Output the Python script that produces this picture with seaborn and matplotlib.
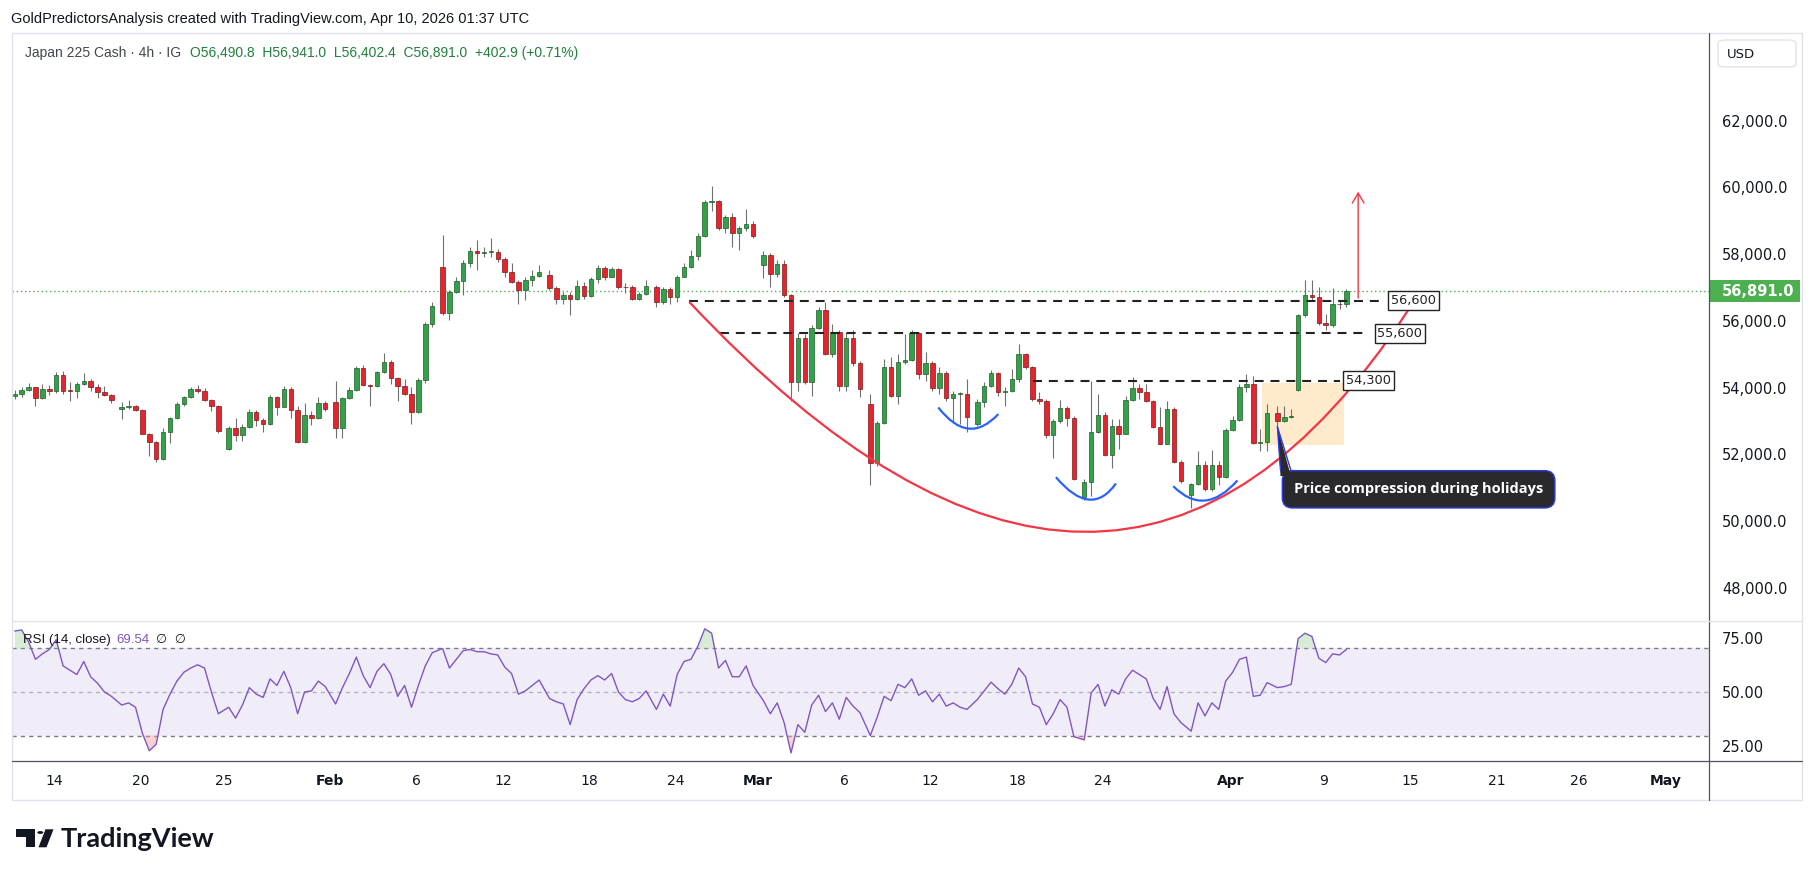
"""
Japan 225 Cash, 4h chart (TradingView style) with cup drawing and RSI pane.
"""

import numpy as np
import pandas as pd
import matplotlib

matplotlib.use("Agg")
import matplotlib.pyplot as plt
import seaborn as sns
from matplotlib.path import Path
from matplotlib.patches import PathPatch, Rectangle, Polygon, Circle, FancyBboxPatch
from matplotlib.lines import Line2D
from matplotlib.transforms import blended_transform_factory

# ---------------------------------------------------------------------------
# Data: one candle per 8h (3 per session, 1 on Apr 6 / Apr 10)
# ---------------------------------------------------------------------------
opens = [
    53757, 53807, 53937, 54008, 53686, 53957, 53907, 54379, 53907, 53887, 54108, 54208,
    54008, 53857, 53777, 53355, 53425, 53455, 53325, 52622, 52371, 51849, 52672, 53084,
    53506, 53726, 53957, 53887, 53626, 53445, 52150, 52803, 52572, 52813, 53274, 53024,
    52903, 53726, 53425, 53957, 53325, 52361, 53174, 53084, 53536, 53575, 52803, 53686,
    53927, 54590, 54078, 54058, 54459, 54780, 54289, 54048, 53807, 53274, 54228, 55895,
    57601, 56246, 56849, 57200, 57722, 58093, 58043, 58064, 58073, 57843, 57471, 57170,
    56919, 57220, 57340, 57371, 56969, 56668, 56788, 56668, 57039, 56738, 57240, 57571,
    57320, 57541, 57019, 56999, 56668, 56798, 57019, 56568, 56939, 56718, 57320, 57601,
    57933, 58545, 59549, 59579, 58776, 59108, 58626, 58776, 58907, 57671, 57963, 57391,
    57702, 56768, 54177, 55493, 54158, 55794, 56336, 55011, 55664, 54057, 55493, 54740,
    53505, 51748, 52932, 54609, 53756, 54780, 54830, 55633, 54408, 54730, 53987, 54448,
    53685, 53806, 53806, 52902, 53555, 54057, 54438, 53876, 53907, 54248, 54991, 54609,
    53655, 53605, 52581, 53003, 53384, 53083, 50724, 51175, 52681, 53164, 51979, 52852,
    52621, 53625, 53977, 53856, 53585, 52822, 52320, 53354, 51778, 50794, 51116, 51678,
    50975, 51678, 51316, 52722, 53023, 54007, 54107, 52350, 52380, 53224,
    53003, 53124, 53926, 56165, 56768, 56718, 55935, 55864, 56517, 56491,
]
highs = [
    53937, 54028, 54128, 54028, 54108, 54078, 54459, 54489, 54158, 54158, 54429, 54258,
    54108, 54038, 53800, 53556, 53626, 53485, 53355, 52652, 52401, 52783, 53124, 53556,
    53757, 54008, 54078, 53987, 53656, 53465, 52853, 53084, 52903, 53355, 53325, 53084,
    53787, 53757, 54058, 54008, 53455, 53546, 53305, 53706, 53586, 54208, 53726, 54008,
    54660, 54690, 54108, 54489, 55032, 54831, 54329, 54258, 54028, 54300, 55950, 56550,
    58575, 56919, 57320, 57822, 58224, 58425, 58224, 58475, 58144, 57903, 57722, 57220,
    57320, 57521, 57672, 57521, 57039, 56869, 56869, 57220, 57170, 57320, 57672, 57642,
    57601, 57571, 57120, 57070, 56869, 57220, 57070, 57019, 57019, 57371, 57722, 58124,
    58626, 59630, 60031, 59630, 59178, 59228, 58826, 59348, 58977, 58093, 58043, 57822,
    57822, 56818, 55633, 55613, 55864, 56416, 56567, 55914, 55714, 55664, 55714, 54810,
    53806, 53003, 54860, 54910, 55011, 55613, 55714, 55664, 55061, 54810, 54609, 54509,
    53906, 53856, 54258, 53655, 54158, 54529, 54459, 54007, 54559, 55292, 55031, 54659,
    53856, 53655, 53053, 53625, 53455, 53153, 51246, 54208, 53806, 53254, 53053, 53053,
    53756, 54308, 54107, 54107, 53625, 53404, 53605, 53405, 51818, 51146, 52099, 51798,
    52119, 51798, 52802, 53154, 54107, 54409, 54358, 52752, 53505, 53455,
    53455, 53355, 56200, 57220, 57220, 57019, 56216, 56969, 56617, 56941,
]
lows = [
    53656, 53706, 53907, 53435, 53656, 53787, 53827, 53807, 53586, 53686, 54080, 53907,
    53686, 53757, 53526, 53054, 53355, 53285, 52602, 51950, 51779, 51819, 52351, 53054,
    53455, 53686, 53827, 53606, 53305, 52652, 52120, 52401, 52401, 52783, 52853, 52682,
    52883, 53184, 53405, 53084, 52331, 52341, 52883, 53054, 53285, 52502, 52502, 53656,
    53907, 54058, 53455, 54028, 54429, 54108, 53606, 53787, 52923, 53250, 54150, 55800,
    56166, 56035, 56819, 56768, 57622, 57521, 57923, 57903, 57772, 57320, 57120, 56517,
    56618, 57039, 57320, 56919, 56517, 56497, 56166, 56618, 56668, 56718, 57120, 57220,
    57300, 56939, 56839, 56618, 56618, 56768, 56417, 56517, 56517, 56568, 57300, 57571,
    57823, 58525, 59278, 58726, 58626, 58224, 58124, 58700, 58475, 57270, 57019, 57320,
    56718, 53605, 53906, 54107, 53756, 55764, 54961, 54910, 53906, 53906, 54660, 53706,
    51075, 51647, 52902, 53706, 53505, 54710, 54810, 54258, 54208, 53906, 53806, 53605,
    52953, 52902, 52681, 52852, 53404, 54007, 53756, 53455, 53856, 54158, 54559, 53605,
    53505, 52501, 51898, 52953, 52852, 51216, 50643, 50744, 52651, 51949, 51597, 52149,
    52601, 53605, 53655, 53555, 52802, 52300, 52300, 51748, 51146, 50393, 51095, 50895,
    50895, 51095, 51296, 52702, 53003, 53856, 52320, 52099, 52099, 52852,
    52980, 53083, 53900, 56115, 56617, 55864, 55714, 55814, 56366, 56402,
]
closes = [
    53807, 53937, 54008, 53686, 53957, 53907, 54379, 53907, 53887, 54108, 54208, 54008,
    53857, 53777, 53626, 53425, 53455, 53325, 52622, 52371, 51849, 52672, 53084, 53506,
    53726, 53957, 53887, 53626, 53445, 52702, 52803, 52572, 52813, 53274, 53024, 52903,
    53726, 53425, 53957, 53325, 52361, 53174, 53084, 53536, 53355, 52803, 53686, 53927,
    54590, 54078, 54058, 54459, 54780, 54289, 54048, 53807, 53274, 54228, 55895, 56457,
    56246, 56849, 57200, 57722, 58093, 58043, 58064, 58073, 57843, 57471, 57170, 56919,
    57220, 57340, 57471, 56969, 56668, 56788, 56668, 57039, 56738, 57240, 57571, 57320,
    57541, 57019, 56999, 56668, 56798, 57039, 56568, 56939, 56718, 57320, 57601, 57933,
    58545, 59549, 59579, 58776, 59108, 58626, 58776, 58907, 58545, 57963, 57391, 57702,
    56768, 54177, 55493, 54158, 55794, 56336, 55011, 55664, 54057, 55493, 54740, 53947,
    51748, 52932, 54609, 53756, 54780, 54830, 55633, 54408, 54730, 53987, 54448, 53685,
    53806, 53806, 53123, 53555, 54057, 54438, 53876, 53907, 54248, 54991, 54609, 53655,
    53605, 52581, 53003, 53384, 53083, 51246, 51175, 52681, 53164, 51979, 52852, 52621,
    53625, 53977, 53856, 53585, 52822, 52320, 53354, 51778, 51196, 51116, 51678, 50975,
    51678, 51316, 52722, 53023, 54007, 54107, 52350, 52380, 53224, 53003,
    53124, 53134, 56165, 56768, 56718, 55935, 55864, 56517, 56491, 56891,
]
rsi_values = [
    78, 78.5, 73, 65, 67.5, 69.5, 74, 62, 60, 58, 64, 57,
    54, 50, 48, 44, 45, 43, 31, 23, 26, 42, 49, 55,
    59, 61, 62.5, 61, 50, 40, 43, 38, 44, 52, 49, 47.5,
    56, 53, 59.5, 52, 40, 50, 50.5, 55, 52.5, 44.5, 52, 58.5,
    66, 57.5, 52, 59.5, 63, 58, 48, 53, 43, 53, 62, 68,
    70, 61, 65, 69, 69.5, 68.5, 68.5, 67.5, 67, 61.5, 58.5, 49,
    50.5, 53, 55.5, 47, 45.5, 44.5, 35, 46.5, 51.5, 55.5, 57.5, 55.5,
    58.5, 50, 46.5, 45.5, 47, 50.5, 42, 49, 43.5, 58, 64, 65,
    71, 79, 77, 61, 64.5, 57, 57, 62, 53, 46, 40, 45,
    36, 22, 35, 31.5, 44, 48.5, 41, 45, 37.5, 47.5, 43.5, 40.5,
    30, 38.5, 48, 46, 53.5, 52, 56, 48.5, 50.5, 45.5, 49, 43.5,
    45, 43, 42, 46.5, 50.5, 54.5, 51.5, 49, 53.5, 61, 57, 44.5,
    43, 35, 40, 46.5, 43, 29.5, 28, 49.5, 53.5, 43.5, 51, 49,
    56, 60, 58, 56, 47, 42, 52.5, 40, 36, 32, 45, 39,
    45, 42, 55, 59, 65, 66, 48, 48.5, 54.3, 52,
    52.5, 53.5, 74.5, 77, 75.5, 65.5, 63.5, 67.5, 67, 69.54,
]

first_day, last_day, axis_end = "2026-01-12", "2026-04-10", "2026-05-01"
session_bars = {"2026-04-03": 0, "2026-04-06": 2}   # 4h bars on holiday sessions
short_days = {"2026-04-06": 1, "2026-04-10": 1}     # candles drawn on those days

tick_dates = ["2026-01-14", "2026-01-20", "2026-01-25", "2026-02-01", "2026-02-06",
              "2026-02-12", "2026-02-18", "2026-02-24", "2026-03-01", "2026-03-06",
              "2026-03-12", "2026-03-18", "2026-03-24", "2026-04-01", "2026-04-09",
              "2026-04-15", "2026-04-21", "2026-04-26", "2026-05-01"]
tick_labels = ["14", "20", "25", "Feb", "6", "12", "18", "24", "Mar", "6",
               "12", "18", "24", "Apr", "9", "15", "21", "26", "May"]
month_labels = ["Feb", "Mar", "Apr", "May"]

price_ticks = [48000, 50000, 52000, 54000, 56000, 58000, 60000, 62000]
rsi_ticks = [25, 50, 75]
last_price = 56891.0
rsi_last = 69.54

# drawn horizontal levels and their label texts
levels = [56600, 55620, 54210]
level_texts = ["56,600", "55,600", "54,300"]

# ---------------------------------------------------------------------------
# Calendar -> bar index (6 bars per weekday, 1 on Sunday evening)
# ---------------------------------------------------------------------------
bar_start = {}
pos = 0
for d in pd.date_range(first_day, axis_end, freq="D"):
    key = d.strftime("%Y-%m-%d")
    bar_start[key] = pos
    if key in session_bars:
        n = session_bars[key]
    elif d.weekday() == 5:
        n = 0
    elif d.weekday() == 6:
        n = 1
    else:
        n = 6
    pos += n

xc = []
for d in pd.bdate_range(first_day, last_day):
    key = d.strftime("%Y-%m-%d")
    if session_bars.get(key, 6) == 0:
        continue
    for k in range(short_days.get(key, 3)):
        xc.append(bar_start[key] + 2 * k + 0.5)
xc = np.array(xc)
o, h, l, c = (np.array(v, dtype=float) for v in (opens, highs, lows, closes))
rsi = np.array(rsi_values, dtype=float)
assert len(xc) == len(o) == len(h) == len(l) == len(c) == len(rsi)

# ---------------------------------------------------------------------------
# Figure layout (pixel based, 1814 x 877)
# ---------------------------------------------------------------------------
W, H = 1814, 877
sns.set_theme(style="white")
plt.rcParams["font.family"] = ["DejaVu Sans"]
plt.rcParams["axes.facecolor"] = "white"

TXT = "#131722"
GREEN, GREEN_EDGE = "#34a047", "#1d5e2b"
RED, RED_EDGE = "#e5242e", "#7d1a1a"
WICK = "#707070"
PURPLE = "#7e57c2"


def fx(x):
    return x / W


def fy(y):
    return 1 - y / H


fig = plt.figure(figsize=(W / 100, H / 100), dpi=100)
fig.patch.set_facecolor("white")
ax = fig.add_axes([fx(12), fy(621), (1709 - 12) / W, (621 - 35) / H])
ax_r = fig.add_axes([fx(12), fy(761), (1709 - 12) / W, (761 - 621) / H], sharex=ax)

for a in (ax, ax_r):
    for s in a.spines.values():
        s.set_visible(False)
    a.grid(False)

ax.set_xlim(-0.3, 491.6)
ax.set_ylim(47006, 64563)
ax_r.set_ylim(18.3, 82.6)

# ---- candles ----
up = c >= o
body_lo = np.minimum(o, c)
body_h = np.maximum(np.abs(c - o), 25)
ax.vlines(xc, l, h, color=WICK, lw=0.8, zorder=2)
ax.bar(xc[up], body_h[up], bottom=body_lo[up], width=1.3, color=GREEN,
       edgecolor=GREEN_EDGE, linewidth=0.5, zorder=3)
ax.bar(xc[~up], body_h[~up], bottom=body_lo[~up], width=1.3, color=RED,
       edgecolor=RED_EDGE, linewidth=0.5, zorder=3)

# last price dotted line + price scale label
ax.axhline(last_price, color="#4caf50", lw=1, ls=(0, (1, 2)), zorder=1)
blend = blended_transform_factory(fig.transFigure, ax.transData)
ax.add_artist(Rectangle((fx(1710), last_price - 330), fx(1800) - fx(1710), 660,
                        transform=blend, facecolor="#4caf50", edgecolor="none",
                        clip_on=False, zorder=5))
ax.text(fx(1722), last_price, f"{last_price:,.1f}", transform=blend, ha="left",
        va="center", color="white", fontsize=10.5, fontweight="bold", zorder=6,
        clip_on=False)

# ---- holiday box ----
ax.add_patch(Rectangle((361.9, 52289), 385.8 - 361.9, 54127 - 52289,
                       facecolor="#ffeacc", edgecolor="none", zorder=1))

# ---- dashed levels ----
level_span = [(196, 396.7), (205, 392.8), (295.7, 384.6)]
label_bar = [406, 402, 393]
for val, txt, (x0, x1), xb in zip(levels, level_texts, level_span, label_bar):
    ax.hlines(val, x0, x1, colors="#222222", lw=1.5, linestyles=(0, (4.3, 3.3)), zorder=4)
    ax.text(xb, val, txt, ha="center", va="center", fontsize=9.3, color="#222222",
            zorder=7, bbox=dict(boxstyle="square,pad=0.22", fc="white", ec="#222222", lw=1))

# ---- cup arc (quadratic curve) ----
cup = Path([(196, 56567), (320, 42900), (404.5, 56337)],
           [Path.MOVETO, Path.CURVE3, Path.CURVE3])
ax.add_patch(PathPatch(cup, fill=False, edgecolor="#f23645", lw=1.6, zorder=5))

# ---- small blue arcs ----
blue_arcs = [
    [(268.2, 53404), (276.9, 52237), (285.6, 53205)],
    [(302.3, 51316), (312.4, 50067), (319.7, 51126)],
    [(336.3, 51045), (345.4, 50099), (354.9, 51217)],
]
for pts in blue_arcs:
    ax.add_patch(PathPatch(Path(pts, [Path.MOVETO, Path.CURVE3, Path.CURVE3]),
                           fill=False, edgecolor="#2962ff", lw=1.6, zorder=5))

# ---- target arrow ----
ax.annotate("", xy=(389.9, 59952), xytext=(389.9, 56600),
            arrowprops=dict(arrowstyle="->,head_width=0.35,head_length=0.6",
                            color="#f23645", lw=1), zorder=6)

# ---- callout ----
DARK, EDGE_BLUE = "#2a2a2e", "#2d3ae0"
ax.text(371.3, 50952, "Price compression during holidays", ha="left", va="center",
        color="white", fontsize=10.5, fontweight="bold", family=["Open Sans", "DejaVu Sans"],
        zorder=8, bbox=dict(boxstyle="round,pad=0.8,rounding_size=0.7",
                            fc=DARK, ec=EDGE_BLUE, lw=1))
ax.add_patch(Polygon([(366.5, 52827), (367.4, 51350), (370.4, 51350)],
                     closed=True, facecolor=DARK, edgecolor="none", zorder=9))
ax.plot([366.5, 367.4], [52827, 51520], color=EDGE_BLUE, lw=1, zorder=9)
ax.plot([366.5, 370.4], [52827, 51520], color=EDGE_BLUE, lw=1, zorder=9)

# ---- price scale ----
ax.set_yticks(price_ticks)
ax.set_yticklabels([f"{v:,.1f}" for v in price_ticks])
ax.tick_params(axis="y", left=False, right=False, labelleft=False, labelright=True,
               length=0, pad=9.4, labelsize=10.5, labelcolor=TXT)
ax.tick_params(axis="x", bottom=False, labelbottom=False)

# ---- RSI pane ----
ax_r.axhspan(30, 70, color=PURPLE, alpha=0.1, lw=0, zorder=0)
for lev, alpha in ((70, 1.0), (50, 0.5), (30, 1.0)):
    ax_r.axhline(lev, color="#787b86", lw=1, ls=(0, (3, 3)), alpha=alpha, zorder=1)
ax_r.fill_between(xc, 70, rsi, where=rsi > 70, interpolate=True, color="#a5d6a7",
                  alpha=0.45, lw=0, zorder=1)
ax_r.fill_between(xc, 30, rsi, where=rsi < 30, interpolate=True, color="#ef9a9a",
                  alpha=0.45, lw=0, zorder=1)
sns.lineplot(x=xc, y=rsi, ax=ax_r, color=PURPLE, lw=1, legend=False, zorder=3)
ax_r.set_xlabel("")
ax_r.set_ylabel("")
ax_r.set_yticks(rsi_ticks)
ax_r.set_yticklabels([f"{v:.2f}" for v in rsi_ticks])
ax_r.tick_params(axis="y", left=False, right=False, labelleft=False, labelright=True,
                 length=0, pad=9.4, labelsize=10.5, labelcolor=TXT)

ax_r.set_xticks([bar_start[d] for d in tick_dates])
ax_r.set_xticklabels(tick_labels)
ax_r.tick_params(axis="x", bottom=False, length=0, pad=9.5, labelsize=10, labelcolor=TXT)
for t in ax_r.get_xticklabels():
    if t.get_text() in month_labels:
        t.set_fontweight("bold")

t_rsi = ax_r.text(0.0065, 0.865, "RSI (14, close)", transform=ax_r.transAxes,
                  ha="left", va="center", fontsize=9.5, color=TXT,
                  family=["Liberation Sans", "DejaVu Sans"])
t_val = ax_r.annotate(f"{rsi_last:.2f}", xy=(1, 0.5), xycoords=t_rsi, xytext=(4, 0),
                      textcoords="offset points", va="center", fontsize=9.5, color=PURPLE,
                      family=["Liberation Sans", "DejaVu Sans"])
ax_r.annotate("\u2205  \u2205", xy=(1, 0.5), xycoords=t_val, xytext=(5, 0),
              textcoords="offset points", va="center", fontsize=9, color=TXT,
              family=["DejaVu Sans"])

# ---- header texts ----
fig.text(fx(11), fy(19), "GoldPredictorsAnalysis created with TradingView.com, Apr 10, 2026 01:37 UTC",
         ha="left", va="center", fontsize=10.5, color=TXT, family=["Liberation Sans", "DejaVu Sans"])
t_name = ax.text(0.0074, 0.969, "Japan 225 Cash \u00b7 4h \u00b7 IG", transform=ax.transAxes,
                 ha="left", va="center", fontsize=10, color="#434651",
                 family=["Liberation Sans", "DejaVu Sans"])
ax.annotate("O56,490.8  H56,941.0  L56,402.4  C56,891.0  +402.9 (+0.71%)", xy=(1, 0.5),
            xycoords=t_name, xytext=(7, 0), textcoords="offset points", va="center",
            fontsize=10, color="#22803c", family=["Liberation Sans", "DejaVu Sans"])

# USD box on the price scale
fig.add_artist(FancyBboxPatch((fx(1718), fy(67)), fx(1796) - fx(1718), fy(40) - fy(67),
                              boxstyle="round,pad=0,rounding_size=0.004",
                              transform=fig.transFigure, facecolor="white",
                              edgecolor="#e0e3eb", lw=1))
fig.text(fx(1727), fy(54), "USD", ha="left", va="center", fontsize=9.5, color=TXT)

# ---- frame and separators ----
fig.add_artist(Rectangle((fx(12), fy(800)), fx(1802) - fx(12), fy(33) - fy(800),
                         transform=fig.transFigure, fill=False, edgecolor="#e0e3eb", lw=1))
fig.add_artist(Line2D([fx(1709), fx(1709)], [fy(33), fy(800)], transform=fig.transFigure,
                      color="#50535e", lw=0.9))
fig.add_artist(Line2D([fx(12), fx(1802)], [fy(761), fy(761)], transform=fig.transFigure,
                      color="#50535e", lw=0.9))
fig.add_artist(Line2D([fx(12), fx(1802)], [fy(621), fy(621)], transform=fig.transFigure,
                      color="#e0e3eb", lw=1))

# ---- TradingView logo ----
k = "#131722"
fig.add_artist(Rectangle((fx(16), fy(836.7)), fx(35) - fx(16), fy(829.3) - fy(836.7),
                         transform=fig.transFigure, facecolor=k, edgecolor="none"))
fig.add_artist(Rectangle((fx(26), fy(847.3)), fx(35) - fx(26), fy(836.7) - fy(847.3),
                         transform=fig.transFigure, facecolor=k, edgecolor="none"))
fig.add_artist(Polygon([(fx(45.5), fy(829.3)), (fx(53.5), fy(829.3)),
                        (fx(46.5), fy(847.3)), (fx(38.5), fy(847.3))],
                       closed=True, transform=fig.transFigure, facecolor=k, edgecolor="none"))
fig.add_artist(Circle((fx(40.3), fy(832.5)), 3.0 / W, transform=fig.transFigure,
                      facecolor=k, edgecolor="none"))
fig.text(fx(61), fy(839), "TradingView", ha="left", va="center", fontsize=19.5,
         fontweight="bold", color=k, family=["Lato", "DejaVu Sans"])

fig.savefig("out.png", dpi=100, facecolor="white")
